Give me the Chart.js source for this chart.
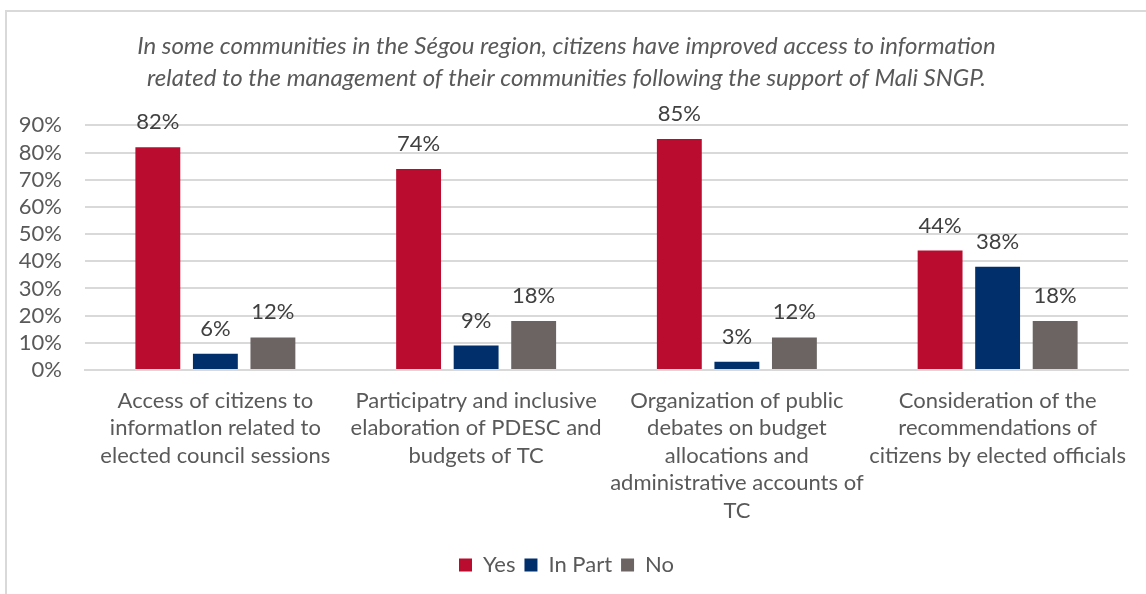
<!DOCTYPE html>
<html>
<head>
<meta charset="utf-8">
<script src="https://cdn.jsdelivr.net/npm/chart.js@4/dist/chart.umd.min.js"></script>
<style>
  html, body { margin: 0; padding: 0; background: #fff; }
  #wrap { position: relative; width: 1146px; height: 594px; overflow: hidden; }
  #frame { position: absolute; left: 5px; top: 10px; width: 1200px; height: 700px; border: 2px solid #d9d9d9; box-sizing: border-box; }
  canvas { position: absolute; left: 0; top: 0; }
</style>
</head>
<body>
<div id="wrap">
  <div id="frame"></div>
  <canvas id="chart" width="1146" height="594"></canvas>
</div>
<script>
const categories = [
    ["Access of citizens to", "informatIon related to", "elected council sessions"],
    ["Participatry and inclusive", "elaboration of PDESC and", "budgets of TC"],
    ["Organization of public", "debates on budget", "allocations and", "administrative accounts of", "TC"],
    ["Consideration of the", "recommendations of", "citizens by elected officials"]
];
const yesValues = [82, 74, 85, 44];
const inPartValues = [6, 9, 3, 38];
const noValues = [12, 18, 12, 18];
const titleLines = [
    "In some communities in the Ségou region, citizens have improved access to information",
    "related to the management of their communities following the support of Mali SNGP."
];

const FONT = "Lato, 'Open Sans', sans-serif";

// writes the percentage above every bar
const valueLabels = {
    id: "valueLabels",
    afterDatasetsDraw(chart) {
        const ctx = chart.ctx;
        ctx.save();
        ctx.font = "22px " + FONT;
        ctx.fillStyle = "#404040";
        ctx.textAlign = "center";
        ctx.textBaseline = "middle";
        chart.data.datasets.forEach((ds, i) => {
            chart.getDatasetMeta(i).data.forEach((bar, j) => {
                ctx.fillText(ds.data[j] + "%", bar.x, bar.y - 25);
            });
        });
        ctx.restore();
    }
};

new Chart(document.getElementById("chart"), {
    type: "bar",
    data: {
        labels: categories,
        datasets: [
            { label: "Yes", data: yesValues, backgroundColor: "#BA0C2F" },
            { label: "In Part", data: inPartValues, backgroundColor: "#002F6C" },
            { label: "No", data: noValues, backgroundColor: "#6C6463" }
        ]
    },
    options: {
        responsive: false,
        animation: false,
        categoryPercentage: 0.662,
        barPercentage: 0.78,
        layout: { padding: { left: 5, right: 18, top: 0, bottom: 8 } },
        scales: {
            x: {
                grid: { display: false, drawTicks: false },
                border: { color: "#d9d9d9", width: 2 },
                ticks: {
                    color: "#595959",
                    font: { family: FONT, size: 22, lineHeight: 1.25 },
                    maxRotation: 0,
                    autoSkip: false,
                    padding: 17
                },
                afterFit: (s) => { s.height = 175; }
            },
            y: {
                min: 0,
                max: 90,
                grid: { color: "#d9d9d9", lineWidth: 2, drawTicks: false },
                border: { display: false },
                ticks: {
                    stepSize: 10,
                    autoSkip: false,
                    color: "#595959",
                    font: { family: FONT, size: 22 },
                    padding: 23,
                    callback: (v) => v + "%"
                },
                afterFit: (s) => { s.width = 80; }
            }
        },
        plugins: {
            title: {
                display: true,
                text: titleLines,
                color: "#595959",
                font: { family: FONT, size: 24, style: "italic", weight: "normal", lineHeight: 1.3 },
                padding: { top: 31, bottom: 32 }
            },
            legend: {
                position: "bottom",
                labels: {
                    color: "#595959",
                    font: { family: FONT, size: 22 },
                    boxWidth: 13,
                    boxHeight: 13,
                    padding: 9
                }
            },
            tooltip: { enabled: false }
        }
    },
    plugins: [valueLabels]
});
</script>
</body>
</html>
